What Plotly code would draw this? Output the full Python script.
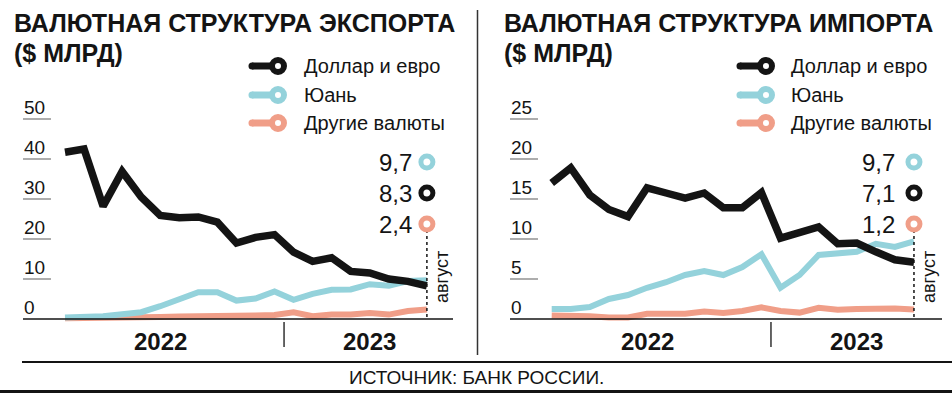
import plotly.graph_objects as go

W, H = 952, 393

months = ["2022-01", "2022-02", "2022-03", "2022-04", "2022-05", "2022-06",
          "2022-07", "2022-08", "2022-09", "2022-10", "2022-11", "2022-12",
          "2023-01", "2023-02", "2023-03", "2023-04", "2023-05", "2023-06",
          "2023-07", "2023-08"]

exp_usd_eur = [41.7, 42.5, 28.2, 36.9, 30.5, 25.9, 25.3, 25.5, 24.2, 19.0,
               20.4, 21.1, 16.7, 14.4, 15.3, 11.9, 11.5, 10.0, 9.4, 8.3]
exp_yuan = [0.4, 0.4, 0.7, 1.2, 1.7, 3.2, 5.0, 6.7, 6.7, 4.6,
            5.1, 6.9, 4.8, 6.3, 7.3, 7.4, 8.7, 8.3, 9.5, 9.7]
exp_other = [0.2, 0.2, 0.2, 0.3, 0.4, 0.5, 0.6, 0.6, 0.7, 0.8,
             0.9, 1.0, 1.7, 0.7, 1.1, 1.1, 1.5, 1.1, 2.0, 2.4]

imp_usd_eur = [17.0, 18.9, 15.5, 13.7, 12.8, 16.4, 15.75, 15.1, 15.75, 13.9,
               13.9, 15.8, 10.1, 10.75, 11.5, 9.4, 9.5, 8.4, 7.4, 7.1]
imp_yuan = [1.25, 1.25, 1.5, 2.5, 3.0, 3.9, 4.6, 5.5, 6.0, 5.5,
            6.5, 8.1, 3.9, 5.5, 8.0, 8.25, 8.4, 9.4, 9.0, 9.7]
imp_other = [0.45, 0.45, 0.35, 0.2, 0.2, 0.65, 0.65, 0.65, 0.95, 0.75,
             1.0, 1.45, 1.0, 0.8, 1.4, 1.15, 1.25, 1.3, 1.3, 1.2]

series_names = ["Доллар и евро", "Юань", "Другие валюты"]
exp_ticks = [0, 10, 20, 30, 40, 50]
imp_ticks = [0, 5, 10, 15, 20, 25]
year_labels = ["2022", "2023"]
titles = ["ВАЛЮТНАЯ СТРУКТУРА ЭКСПОРТА", "ВАЛЮТНАЯ СТРУКТУРА ИМПОРТА"]
subtitle = "($ МЛРД)"
month_label = "август"
source = "ИСТОЧНИК: БАНК РОССИИ."

BLACK = "#141414"
BLUE = "#94d2db"
SALMON = "#f09e88"
colors = [BLACK, BLUE, SALMON]
widths = [7.5, 6, 6]
FONT = "Liberation Sans, Arial, sans-serif"


def px(x):
    return x / W


def py(y):
    return 1 - y / H


fig = go.Figure()

panels = [
    dict(xa="x", ya="y", data=[exp_usd_eur, exp_yuan, exp_other], ticks=exp_ticks,
         xdom=(23, 453), xr=[-2.205, 20.37], yr=[-2.75, 54.75],
         title_x=12, leg_line=252, leg_ring=278, leg_text=302, ring_x_lab=414,
         aug_x=442),
    dict(xa="x2", ya="y2", data=[imp_usd_eur, imp_yuan, imp_other], ticks=imp_ticks,
         xdom=(510, 942), xr=[-2.187, 20.47], yr=[-1.375, 27.375],
         title_x=502, leg_line=740, leg_ring=766, leg_text=789, ring_x_lab=897,
         aug_x=929),
]

shapes = []
annotations = []
last = len(months) - 1

for p_i, p in enumerate(panels):
    # lines: draw other, yuan, then dollar on top
    for s in [2, 1, 0]:
        fig.add_trace(go.Scatter(
            x=months, y=p["data"][s], mode="lines",
            line=dict(color=colors[s], width=widths[s]),
            xaxis=p["xa"], yaxis=p["ya"], showlegend=False, hoverinfo="skip"))

    xref = p["xa"]
    yref = p["ya"]
    # tick labels with short underline
    for t in p["ticks"]:
        if t == 0:
            shapes.append(dict(type="line", xref=xref + " domain", yref=yref,
                               x0=0, x1=1, y0=0, y1=0,
                               line=dict(color=BLACK, width=1.6)))
        else:
            shapes.append(dict(type="line", xref=xref + " domain", yref=yref,
                               x0=0, x1=28 / (p["xdom"][1] - p["xdom"][0]), y0=t, y1=t,
                               line=dict(color="#8a8a8a", width=1.4)))
        annotations.append(dict(xref=xref + " domain", yref=yref, x=0, y=t,
                                xanchor="left", yanchor="middle", yshift=12, xshift=-1,
                                text=str(t), showarrow=False,
                                font=dict(family=FONT, size=19, color=BLACK)))

    # year divider and labels
    shapes.append(dict(type="line", xref=xref, yref="paper", x0=11.5, x1=11.5,
                       y0=py(322), y1=py(347), line=dict(color="#333", width=1.5)))
    for yl, xc in zip(year_labels, [5.0, 16.0]):
        annotations.append(dict(xref=xref, yref="paper", x=xc, y=py(341),
                                xanchor="center", yanchor="middle", text="<b>%s</b>" % yl,
                                showarrow=False, font=dict(family=FONT, size=24, color=BLACK)))

    # titles
    annotations.append(dict(xref="paper", yref="paper", x=px(p["title_x"]), y=py(23),
                            xanchor="left", yanchor="middle", text="<b>%s</b>" % titles[p_i],
                            showarrow=False, font=dict(family=FONT, size=25, color=BLACK)))
    annotations.append(dict(xref="paper", yref="paper", x=px(p["title_x"]), y=py(53),
                            xanchor="left", yanchor="middle", text="<b>%s</b>" % subtitle,
                            showarrow=False, font=dict(family=FONT, size=25, color=BLACK)))

    # legend
    for s, ly in enumerate([66, 95, 123]):
        shapes.append(dict(type="line", xref="paper", yref="paper",
                           x0=px(p["leg_line"]), x1=px(p["leg_ring"]),
                           y0=py(ly), y1=py(ly), line=dict(color=colors[s], width=7)))
        shapes.append(dict(type="circle", xref="paper", yref="paper",
                           xsizemode="pixel", ysizemode="pixel",
                           xanchor=px(p["leg_line"]), yanchor=py(ly),
                           x0=-3.5, x1=3.5, y0=-3.5, y1=3.5,
                           line=dict(width=0), fillcolor=colors[s]))
        shapes.append(dict(type="circle", xref="paper", yref="paper",
                           xsizemode="pixel", ysizemode="pixel",
                           xanchor=px(p["leg_ring"]), yanchor=py(ly),
                           x0=-6, x1=6, y0=-6, y1=6,
                           line=dict(color=colors[s], width=6), fillcolor="white"))
        annotations.append(dict(xref="paper", yref="paper", x=px(p["leg_text"]), y=py(ly),
                                xanchor="left", yanchor="middle", text=series_names[s],
                                showarrow=False, font=dict(family=FONT, size=20, color=BLACK)))

    # end value labels with rings
    order = [1, 0, 2]
    ring_y = [162, 193, 224]
    shapes.append(dict(type="line", xref=xref, yref="paper", x0=last, x1=last,
                       y0=py(ring_y[-1]), y1=py(319),
                       line=dict(color=BLACK, width=1.5, dash="dot")))
    for s, ry in zip(order, ring_y):
        val = p["data"][s][-1]
        shapes.append(dict(type="circle", xref=xref, yref="paper",
                           xsizemode="pixel", ysizemode="pixel",
                           xanchor=last, yanchor=py(ry),
                           x0=-6, x1=6, y0=-6, y1=6,
                           line=dict(color=colors[s], width=5), fillcolor="white"))
        annotations.append(dict(xref="paper", yref="paper", x=px(p["ring_x_lab"]), y=py(ry),
                                xanchor="right", yanchor="middle",
                                text=("%.1f" % val).replace(".", ","),
                                showarrow=False, font=dict(family=FONT, size=24, color=BLACK)))
    annotations.append(dict(xref="paper", yref="paper", x=px(p["aug_x"]), y=py(277),
                            xanchor="center", yanchor="middle", text=month_label, textangle=-90,
                            showarrow=False, font=dict(family=FONT, size=18, color=BLACK)))

# main divider, rules, source
shapes.append(dict(type="line", xref="paper", yref="paper", x0=px(477.5), x1=px(477.5),
                   y0=py(10), y1=py(355), line=dict(color="#333", width=1.5)))
shapes.append(dict(type="line", xref="paper", yref="paper", x0=px(22), x1=1,
                   y0=py(362), y1=py(362), line=dict(color=BLACK, width=2)))
shapes.append(dict(type="rect", xref="paper", yref="paper", x0=0, x1=1,
                   y0=0, y1=py(390), line=dict(width=0), fillcolor=BLACK))
annotations.append(dict(xref="paper", yref="paper", x=px(476), y=py(377),
                        xanchor="center", yanchor="middle", text=source,
                        showarrow=False, font=dict(family=FONT, size=19, color=BLACK)))

ax_common = dict(visible=False, fixedrange=True)
fig.update_layout(
    width=W, height=H, margin=dict(l=0, r=0, t=0, b=0),
    paper_bgcolor="white", plot_bgcolor="white",
    xaxis=dict(domain=[px(23), px(453)], range=panels[0]["xr"], type="category",
               anchor="y", **ax_common),
    yaxis=dict(domain=[py(330), py(100)], range=panels[0]["yr"], anchor="x", **ax_common),
    xaxis2=dict(domain=[px(510), px(942)], range=panels[1]["xr"], type="category",
                anchor="y2", **ax_common),
    yaxis2=dict(domain=[py(330), py(100)], range=panels[1]["yr"], anchor="x2", **ax_common),
    shapes=shapes, annotations=annotations, showlegend=False,
)

fig.write_html("out.html", config={"displayModeBar": False},
               post_script="document.body.style.margin='0';document.body.style.overflow='hidden';")
